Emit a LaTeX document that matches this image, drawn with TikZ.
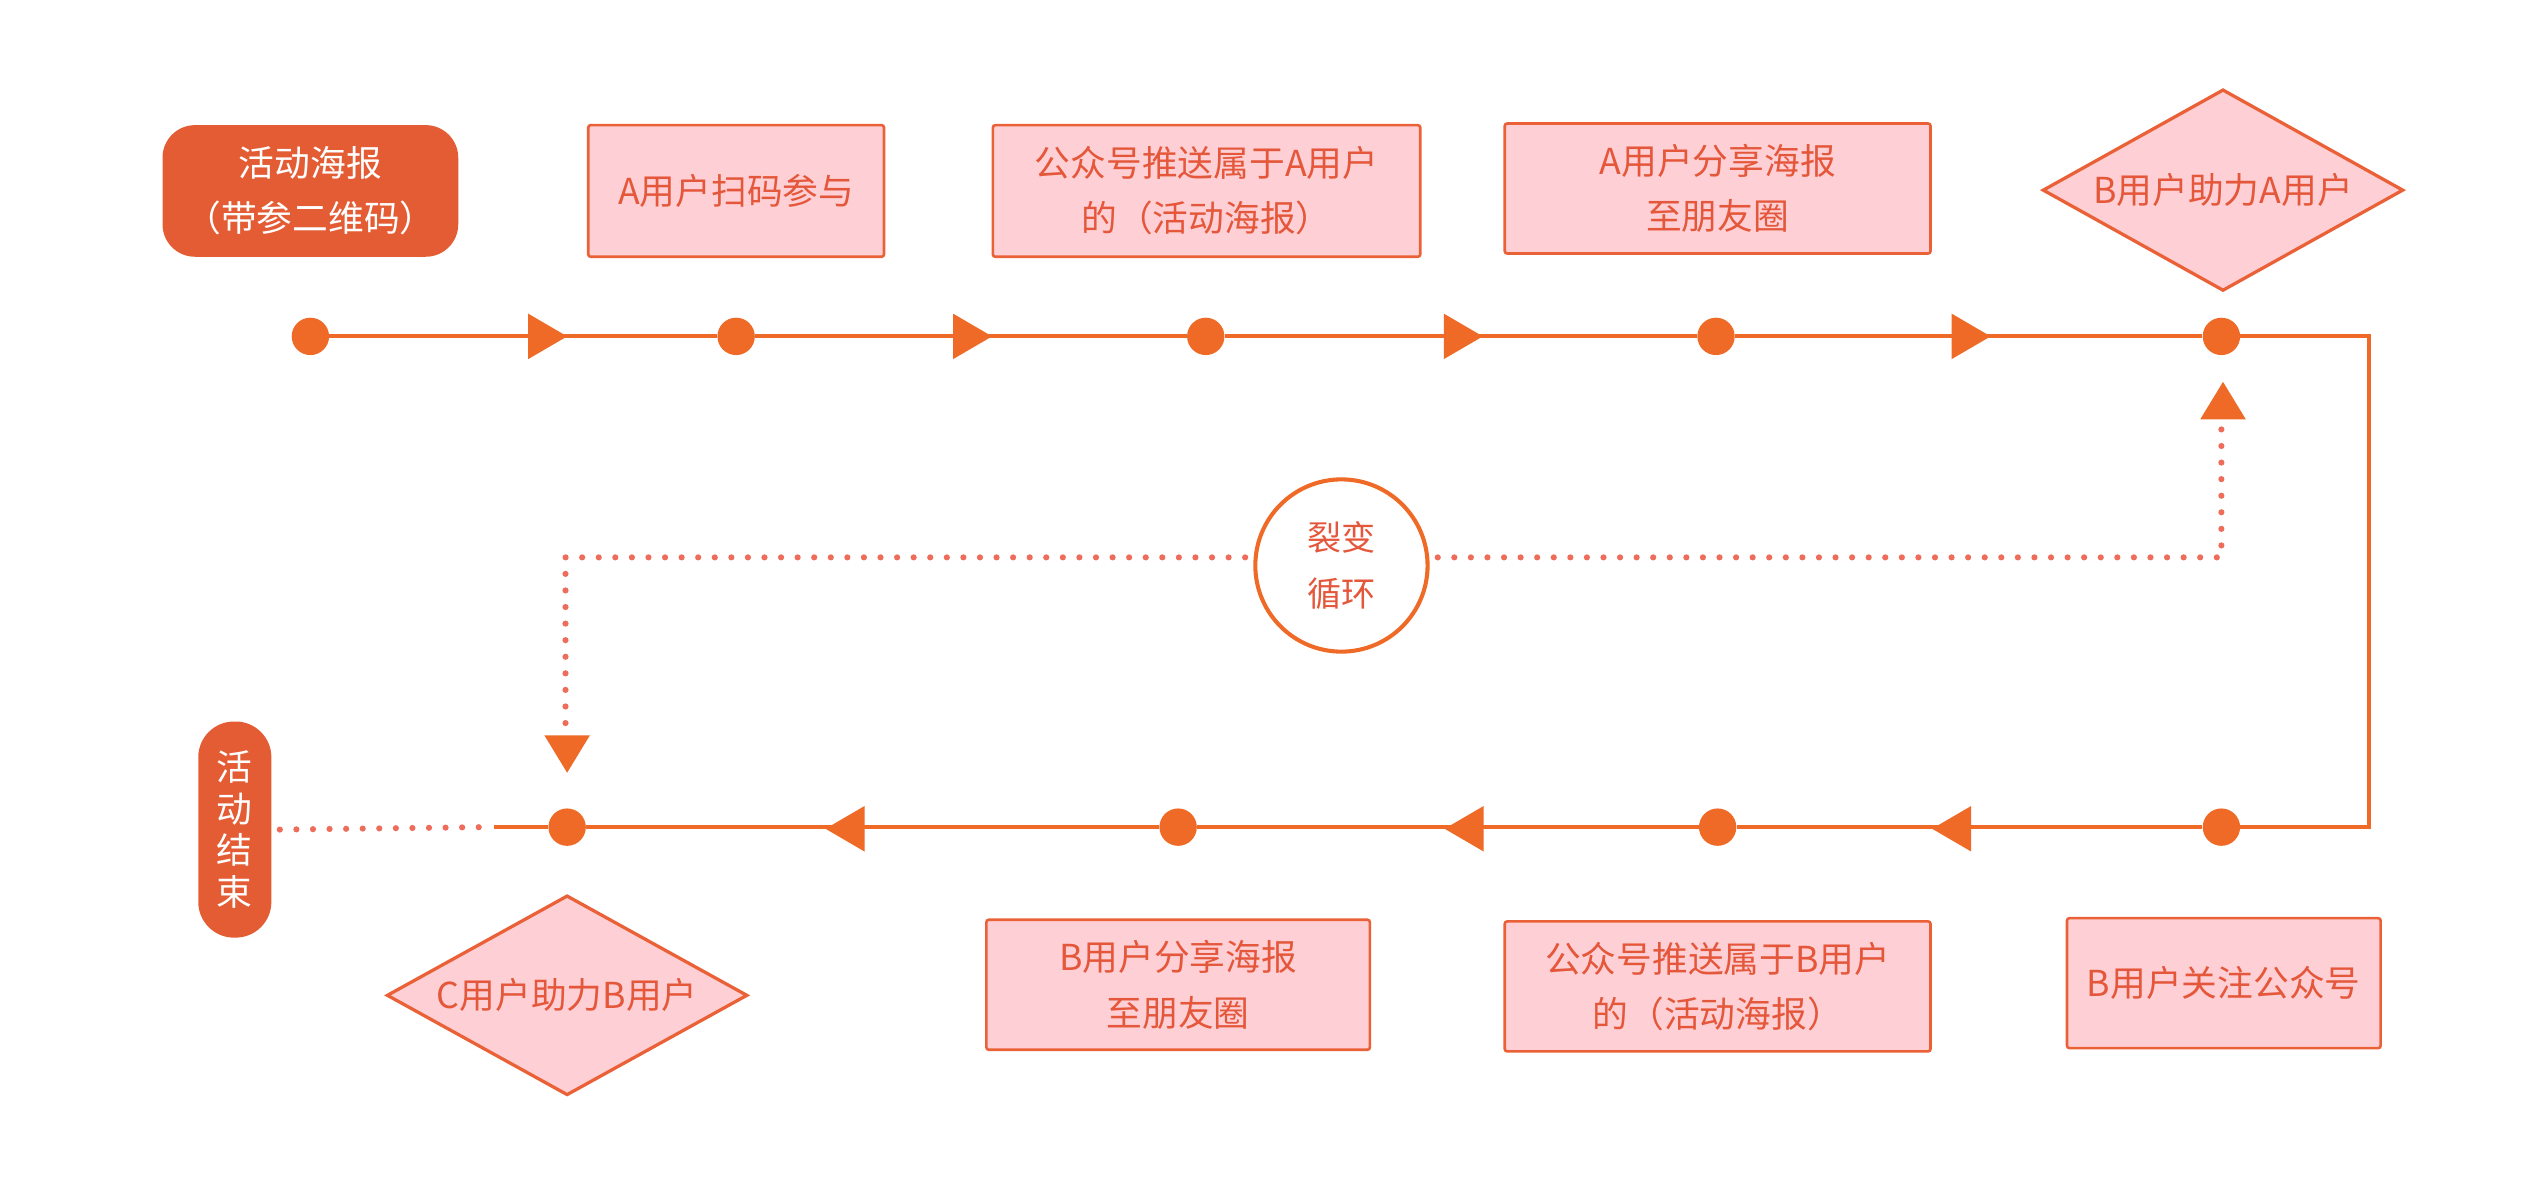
\documentclass[tikz,border=0pt]{standalone}
\usepackage{fontspec}
\newfontfamily\cjk{Noto Sans CJK SC}
\usetikzlibrary{shapes.geometric}
\definecolor{lineC}{HTML}{EE6A26}
\definecolor{fillC}{HTML}{E45C34}
\definecolor{pinkC}{HTML}{FED0D5}
\definecolor{bordC}{HTML}{EA6138}
\definecolor{textC}{HTML}{E5573A}
\definecolor{dotC}{HTML}{EE6D5A}
\begin{document}
\begin{tikzpicture}[x=1pt,y=-1pt,
  every node/.style={font=\cjk\fontsize{22}{34}\selectfont, inner sep=0pt, align=center},
  solidbox/.style={rectangle, rounded corners=20pt, fill=fillC, text=white},
  pinkbox/.style={rectangle, draw=bordC, line width=1.6pt, fill=pinkC, text=textC, rounded corners=1.5pt},
  pinkdia/.style={diamond, aspect=1.79, draw=bordC, line width=2pt, fill=pinkC, text=textC},
  dotn/.style={circle, fill=lineC, minimum size=23pt},
  mainline/.style={draw=lineC, line width=2.6pt},
  dotline/.style={draw=dotC, line width=3.8pt, line cap=round, dash pattern=on 0pt off 10.2pt},
  rtri/.pic={\fill[lineC] (-12,-14) -- (12,0) -- (-12,14) -- cycle;},
  ltri/.pic={\fill[lineC] (12,-14) -- (-12,0) -- (12,14) -- cycle;},
  utri/.pic={\fill[lineC] (-14,11.5) -- (0,-11.5) -- (14,11.5) -- cycle;},
  dtri/.pic={\fill[lineC] (-14,-11.5) -- (0,11.5) -- (14,-11.5) -- cycle;},
]
\fill[white] (0,0) rectangle (1568,726);
\useasboundingbox (0,0) rectangle (1568,726);

% top boxes
\node[solidbox, minimum width=182pt, minimum height=81pt] (poster) at (191,117.5) {活动海报\\（带参二维码）};
\node[pinkbox, minimum width=182pt, minimum height=81pt] (scan) at (453,117.5) {A用户扫码参与};
\node[pinkbox, minimum width=263pt, minimum height=81pt] (pushA) at (742.5,117.5) {公众号推送属于A用户\\的（活动海报）};
\node[pinkbox, minimum width=262pt, minimum height=80pt] (shareA) at (1057,116) {A用户分享海报\\至朋友圈};
\node[pinkdia, minimum width=222pt, minimum height=124pt] (helpA) at (1368,117) {B用户助力A用户};

% bottom boxes
\node[pinkbox, minimum width=193pt, minimum height=80pt] (follow) at (1368.5,605) {B用户关注公众号};
\node[pinkbox, minimum width=262pt, minimum height=80pt] (pushB) at (1057,607) {公众号推送属于B用户\\的（活动海报）};
\node[pinkbox, minimum width=236pt, minimum height=80pt] (shareB) at (725,606) {B用户分享海报\\至朋友圈};
\node[pinkdia, minimum width=222pt, minimum height=123pt] (helpB) at (349,612.5) {C用户助力B用户};

% end pill
\node[rectangle, rounded corners=22pt, fill=fillC, text=white, minimum width=45pt, minimum height=133pt,
      font=\cjk\fontsize{22}{25.5}\selectfont] (finish) at (144.5,510.5) {活\\动\\结\\束};

% loop circle
\node[circle, draw=lineC, line width=2.5pt, fill=white, text=textC, minimum size=106pt,
      font=\cjk\fontsize{21}{35}\selectfont] (loop) at (825.5,348) {裂变\\循环};

% dots
\node[dotn] (t1) at (191,207) {};
\node[dotn] (t2) at (453,207) {};
\node[dotn] (t3) at (742,207) {};
\node[dotn] (t4) at (1056,207) {};
\node[dotn] (t5) at (1367,207) {};
\node[dotn] (b1) at (1367,509) {};
\node[dotn] (b2) at (1057,509) {};
\node[dotn] (b3) at (725,509) {};
\node[dotn] (b4) at (349,509) {};
\coordinate (tR) at (1458,207);
\coordinate (bR) at (1458,509);
\coordinate (bEnd) at (304,509);

% main line
\draw[mainline] (t1) -- (t2) -- (t3) -- (t4) -- (t5) -- (tR) -- (bR) -- (b1) -- (b2) -- (b3) -- (b4) -- (bEnd);

% direction triangles
\pic at (337,207) {rtri};
\pic at (598.5,207) {rtri};
\pic at (900.5,207) {rtri};
\pic at (1213,207) {rtri};
\pic at (1201,510) {ltri};
\pic at (901,510) {ltri};
\pic at (520,510) {ltri};

% dotted loop
\coordinate (lpR) at (1367,343);
\coordinate (lpRe) at (1367,264);
\coordinate (lpL) at (348,343);
\coordinate (lpLe) at (348,449);
\draw[dotline] ([xshift=5pt]loop.east |- lpR) -- (lpR) -- (lpRe);
\draw[dotline] ([xshift=-5pt]loop.west |- lpL) -- (lpL) -- (lpLe);
\pic at (1368,246.5) {utri};
\pic at (349,464) {dtri};

% dotted to end
\draw[dotline] ([xshift=5pt]finish.east) -- ([xshift=-6pt]bEnd);
\end{tikzpicture}
\end{document}
